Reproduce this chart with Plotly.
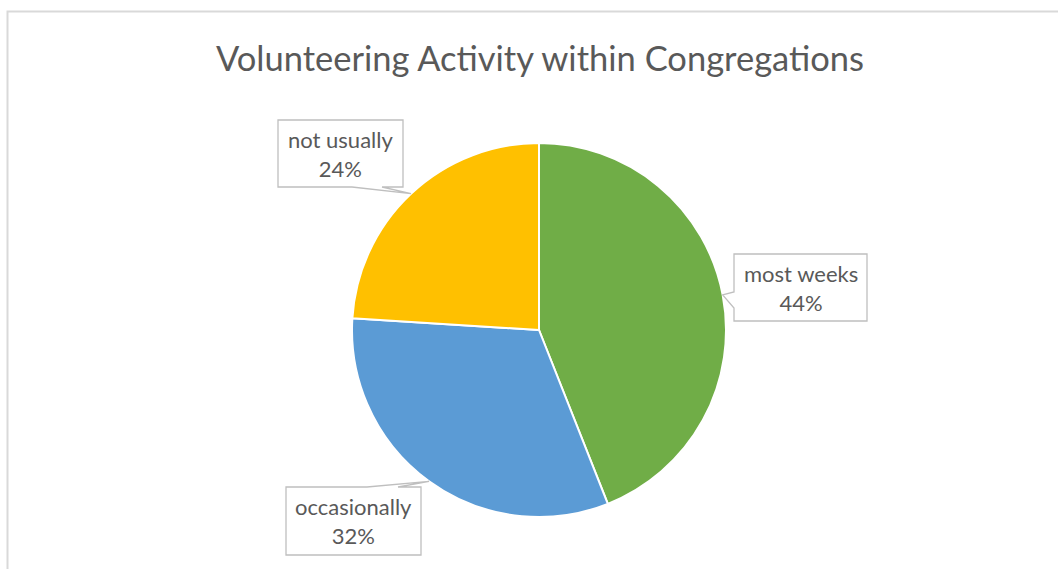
import math
import plotly.graph_objects as go

# Survey share by volunteering frequency
categories = ["most weeks", "occasionally", "not usually"]
shares = [44, 32, 24]
colors = ["#70AD47", "#5B9BD5", "#FFC000"]

W, H = 1058, 569
CX, CY, R = 539, 330, 187  # pie centre and radius in pixels

TEXT = "#595959"
EDGE = "#BFBFBF"


def px(x, y):
    """pixel -> paper coordinates"""
    return x / W, 1 - y / H


def path(points):
    pts = [px(x, y) for x, y in points]
    return "M " + " L ".join(f"{a:.5f},{b:.5f}" for a, b in pts) + " Z"


def edge_point(idx):
    """point on the pie rim at the middle of slice idx (clockwise from 12 o'clock)"""
    total = sum(shares)
    start = sum(shares[:idx]) / total * 360
    mid = math.radians(start + shares[idx] / total * 180)
    return CX + R * math.sin(mid), CY - R * math.cos(mid)


x0, y0 = px(CX - R, CY + R)
x1, y1 = px(CX + R, CY - R)

fig = go.Figure(
    go.Pie(
        labels=categories,
        values=shares,
        sort=False,
        direction="clockwise",
        rotation=0,
        marker=dict(colors=colors, line=dict(color="white", width=2)),
        textinfo="none",
        hoverinfo="label+percent",
        domain=dict(x=[x0, x1], y=[y0, y1]),
        showlegend=False,
    )
)

shapes = []
annotations = []

# chart frame (runs off the right and bottom of the page)
fx, fy = px(7.5, 11.5)
shapes.append(dict(type="path", xref="paper", yref="paper",
                   path=f"M {fx},{-0.1} L {fx},{fy} L 1.1,{fy}",
                   line=dict(color="#D9D9D9", width=2)))

# callout boxes: (left, top, right, bottom) in pixels
boxes = {
    "not usually": (278, 120, 403, 187),
    "most weeks": (734, 254, 867, 321),
    "occasionally": (286, 487, 421, 555),
}

for i, name in enumerate(categories):
    l, t, r, b = boxes[name]
    tx, ty = edge_point(i)
    if name == "most weeks":
        pts = [(l, t), (r, t), (r, b), (l, b), (l, 308), (tx, ty), (l, 292)]
    elif name == "not usually":
        pts = [(l, t), (r, t), (r, b), (382, b), (tx, ty), (352, b), (l, b)]
    else:
        pts = [(l, t), (367, t), (tx, ty), (398, t), (r, t), (r, b), (l, b)]
    shapes.append(dict(type="path", xref="paper", yref="paper", path=path(pts),
                       fillcolor="white", line=dict(color=EDGE, width=1.3)))
    ax, ay = px((l + r) / 2, (t + b) / 2)
    annotations.append(dict(
        x=ax, y=ay, xref="paper", yref="paper", xanchor="center", yanchor="middle",
        showarrow=False, align="center",
        text=f"{name}<br>{shares[i]}%",
        font=dict(family="Lato, Carlito, sans-serif", size=22, color=TEXT),
    ))

tx_, ty_ = px(539.5, 57)
annotations.append(dict(
    x=tx_, y=ty_, xref="paper", yref="paper", xanchor="center", yanchor="middle",
    showarrow=False, text="Volunteering Activity within Congregations",
    font=dict(family="Lato, Carlito, sans-serif", size=34.5, color=TEXT),
))

fig.update_layout(
    width=W, height=H,
    margin=dict(l=0, r=0, t=0, b=0),
    paper_bgcolor="white", plot_bgcolor="white",
    shapes=shapes, annotations=annotations,
)

fig.write_html("out.html")
